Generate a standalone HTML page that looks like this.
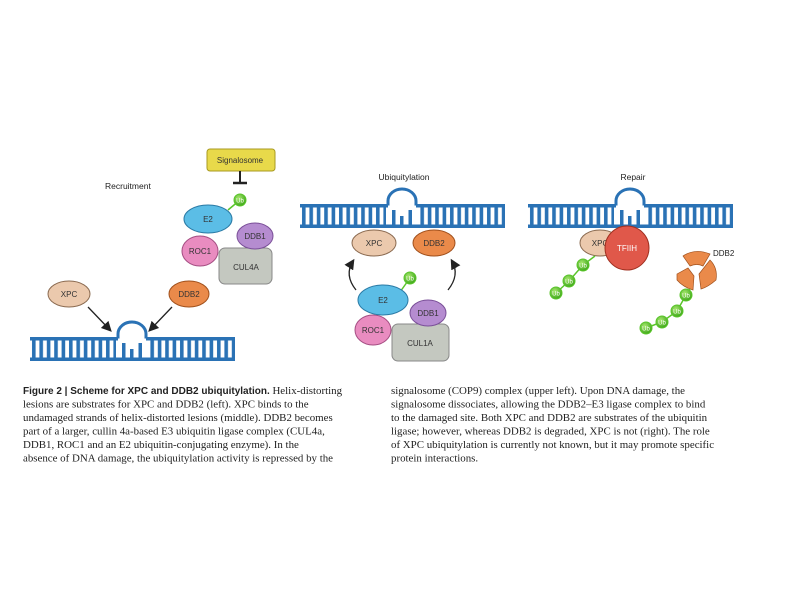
<!DOCTYPE html>
<html><head><meta charset="utf-8"><style>
body{margin:0;background:#fff;}
svg{display:block}
.l{font-family:"Liberation Sans",sans-serif;font-size:8px;fill:#333;text-anchor:middle}
.t{font-family:"Liberation Sans",sans-serif;font-size:8.5px;fill:#222}
.c{font-family:"Liberation Serif",serif;font-size:10.9px;fill:#222}
</style></head><body>
<svg width="794" height="595" viewBox="0 0 794 595" xmlns="http://www.w3.org/2000/svg">
<defs>
<pattern id="rung" x="0" y="0" width="7.4" height="30" patternUnits="userSpaceOnUse">
<rect x="2" y="0" width="3.6" height="30" fill="#2a72b5"/>
</pattern>
<marker id="ar" markerWidth="8" markerHeight="8" refX="6" refY="4" orient="auto"><path d="M0,0 L8,4 L0,8 z" fill="#222"/></marker>
<radialGradient id="ub" cx="40%" cy="35%" r="65%"><stop offset="0" stop-color="#a8e870"/><stop offset="1" stop-color="#3fa81a"/></radialGradient>
<g id="dna">
<rect x="0" y="0" width="205" height="24" fill="url(#rung)"/>
<rect x="86" y="-2" width="32" height="27" fill="#fff"/>
<rect x="0" y="0" width="205" height="3.5" fill="#2a72b5"/>
<rect x="0" y="20.5" width="205" height="3.5" fill="#2a72b5"/>
<rect x="88" y="0" width="28" height="3.5" fill="#fff"/>
<path d="M88,1.5 L88,-3 A14,12 0 0 1 116,-3 L116,1.5" fill="none" stroke="#2a72b5" stroke-width="3"/>
<rect x="100" y="12" width="3.5" height="10" fill="#2a72b5"/>
<rect x="92" y="6" width="3.5" height="16" fill="#2a72b5"/>
<rect x="108.5" y="6" width="3.5" height="16" fill="#2a72b5"/>
</g>
<g id="ubg"><circle r="6" fill="url(#ub)" stroke="#5ac52a" stroke-width="1"/><text y="2.5" class="l" style="font-size:6px;fill:#fff">Ub</text></g>
</defs>

<!-- Titles -->
<text x="105" y="189" class="t">Recruitment</text>
<text x="404" y="180" class="t" text-anchor="middle">Ubiquitylation</text>
<text x="633" y="180" class="t" text-anchor="middle">Repair</text>

<!-- LEFT -->
<use href="#dna" x="30" y="337"/>
<rect x="207" y="149" width="68" height="22" rx="3" fill="#e8d94a" stroke="#a89a20"/>
<text x="240" y="163" class="l">Signalosome</text>
<line x1="240" y1="171" x2="240" y2="183" stroke="#222" stroke-width="2"/>
<line x1="233" y1="183" x2="247" y2="183" stroke="#222" stroke-width="2.5"/>
<line x1="240" y1="200" x2="228" y2="210" stroke="#5ac52a" stroke-width="1.5"/>
<use href="#ubg" x="240" y="200"/>
<rect x="219" y="248" width="53" height="36" rx="6" fill="#c4c8c0" stroke="#888"/>
<text x="246" y="270" class="l">CUL4A</text>
<ellipse cx="255" cy="236" rx="18" ry="13" fill="#b58cd0" stroke="#7a4f98"/>
<text x="255" y="239" class="l">DDB1</text>
<ellipse cx="200" cy="251" rx="18" ry="15" fill="#e98cc0" stroke="#a44d82"/>
<text x="200" y="254" class="l">ROC1</text>
<ellipse cx="208" cy="219" rx="24" ry="14" fill="#5bbde6" stroke="#2a7aa5"/>
<text x="208" y="222" class="l">E2</text>
<ellipse cx="69" cy="294" rx="21" ry="13" fill="#ebc9ad" stroke="#8a6a50"/>
<text x="69" y="297" class="l">XPC</text>
<ellipse cx="189" cy="294" rx="20" ry="13" fill="#ea8a4a" stroke="#a0501c"/>
<text x="189" y="297" class="l">DDB2</text>
<line x1="88" y1="307" x2="110" y2="330" stroke="#222" stroke-width="1.3" marker-end="url(#ar)"/>
<line x1="172" y1="307" x2="150" y2="330" stroke="#222" stroke-width="1.3" marker-end="url(#ar)"/>

<!-- MIDDLE -->
<use href="#dna" x="300" y="204"/>
<ellipse cx="374" cy="243" rx="22" ry="13" fill="#ebc9ad" stroke="#8a6a50"/>
<text x="374" y="246" class="l">XPC</text>
<ellipse cx="434" cy="243" rx="21" ry="13" fill="#ea8a4a" stroke="#a0501c"/>
<text x="434" y="246" class="l">DDB2</text>
<path d="M356,290 Q344,275 353,261" fill="none" stroke="#222" stroke-width="1.3" marker-end="url(#ar)"/>
<path d="M448,290 Q460,275 452,261" fill="none" stroke="#222" stroke-width="1.3" marker-end="url(#ar)"/>
<line x1="410" y1="278" x2="400" y2="292" stroke="#5ac52a" stroke-width="1.5"/>
<use href="#ubg" x="410" y="278"/>
<rect x="392" y="324" width="57" height="37" rx="6" fill="#c4c8c0" stroke="#888"/>
<text x="420" y="346" class="l">CUL1A</text>
<ellipse cx="428" cy="313" rx="18" ry="13" fill="#b58cd0" stroke="#7a4f98"/>
<text x="428" y="316" class="l">DDB1</text>
<ellipse cx="373" cy="330" rx="18" ry="15" fill="#e98cc0" stroke="#a44d82"/>
<text x="373" y="333" class="l">ROC1</text>
<ellipse cx="383" cy="300" rx="25" ry="15" fill="#5bbde6" stroke="#2a7aa5"/>
<text x="383" y="303" class="l">E2</text>

<!-- RIGHT -->
<use href="#dna" x="528" y="204"/>
<ellipse cx="600" cy="243" rx="20" ry="13" fill="#ebc9ad" stroke="#8a6a50"/>
<text x="600" y="246" class="l">XPC</text>
<circle cx="627" cy="248" r="22" fill="#e0584a" stroke="#a03020"/>
<text x="627" y="251" class="l" style="fill:#fff">TFIIH</text>
<polyline points="595,256 583,265 569,281 556,293" fill="none" stroke="#5ac52a" stroke-width="1.5"/>
<use href="#ubg" x="583" y="265"/>
<use href="#ubg" x="569" y="281"/>
<use href="#ubg" x="556" y="293"/>
<path d="M683,256 Q695,248 710,254 L703,266 Q697,263 690,266 z" fill="#ea8a4a" stroke="#a0501c" stroke-width="0.7"/>
<path d="M677,274 L688,268 L694,276 L693,290 Q683,287 677,280 z" fill="#ea8a4a" stroke="#a0501c" stroke-width="0.7"/>
<path d="M699,274 L710,260 Q718,268 716,280 Q708,287 701,289 z" fill="#ea8a4a" stroke="#a0501c" stroke-width="0.7"/>
<text x="713" y="256" class="t" style="font-size:8px">DDB2</text>
<polyline points="690,289 686,295 677,311 662,322 646,328" fill="none" stroke="#5ac52a" stroke-width="1.5"/>
<use href="#ubg" x="686" y="295"/>
<use href="#ubg" x="677" y="311"/>
<use href="#ubg" x="662" y="322"/>
<use href="#ubg" x="646" y="328"/>

<!-- Caption -->
<g class="c">
<text x="23" y="394"><tspan style="font-family:'Liberation Sans',sans-serif;font-weight:bold;font-size:10px">Figure 2 | Scheme for XPC and DDB2 ubiquitylation.</tspan> Helix-distorting</text>
<text x="23" y="407.5">lesions are substrates for XPC and DDB2 (left). XPC binds to the</text>
<text x="23" y="421">undamaged strands of helix-distorted lesions (middle). DDB2 becomes</text>
<text x="23" y="434.5">part of a larger, cullin 4a-based E3 ubiquitin ligase complex (CUL4a,</text>
<text x="23" y="448">DDB1, ROC1 and an E2 ubiquitin-conjugating enzyme). In the</text>
<text x="23" y="461.5">absence of DNA damage, the ubiquitylation activity is repressed by the</text>
<text x="391" y="394">signalosome (COP9) complex (upper left). Upon DNA damage, the</text>
<text x="391" y="407.5">signalosome dissociates, allowing the DDB2–E3 ligase complex to bind</text>
<text x="391" y="421">to the damaged site. Both XPC and DDB2 are substrates of the ubiquitin</text>
<text x="391" y="434.5">ligase; however, whereas DDB2 is degraded, XPC is not (right). The role</text>
<text x="391" y="448">of XPC ubiquitylation is currently not known, but it may promote specific</text>
<text x="391" y="461.5">protein interactions.</text>
</g>
</svg>
</body></html>
